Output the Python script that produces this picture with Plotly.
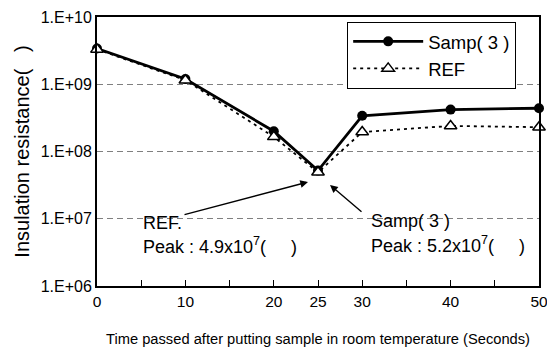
import plotly.graph_objects as go

time_s = [0, 10, 20, 25, 30, 40, 50]
samp3 = [3.4e9, 1.2e9, 2.0e8, 5.2e7, 3.4e8, 4.2e8, 4.4e8]
ref = [3.3e9, 1.15e9, 1.65e8, 4.9e7, 1.95e8, 2.4e8, 2.3e8]

x_ticks = [0, 10, 20, 25, 30, 40, 50]
y_ticks = [1e6, 1e7, 1e8, 1e9, 1e10]
y_tick_text = ["1.E+06", "1.E+07", "1.E+08", "1.E+09", "1.E+10"]

FONT = "Liberation Sans, Arial, sans-serif"

fig = go.Figure()
fig.add_trace(go.Scatter(
    x=time_s, y=samp3, name="Samp( 3 )", mode="lines+markers",
    line=dict(color="black", width=2.8),
    marker=dict(symbol="circle", size=10, color="black"),
    cliponaxis=False,
))
fig.add_trace(go.Scatter(
    x=time_s, y=ref, name="REF", mode="lines+markers",
    line=dict(color="black", width=1.8, dash="3px,4px"),
    marker=dict(symbol="triangle-up", size=11, color="white",
                line=dict(color="black", width=1.5)),
    cliponaxis=False,
))

fig.update_layout(
    width=547, height=352,
    margin=dict(l=97, r=8, t=17, b=66),
    paper_bgcolor="white", plot_bgcolor="white",
    font=dict(family=FONT, size=15, color="black"),
    showlegend=True,
    legend=dict(
        x=0.566, y=0.982, xanchor="left", yanchor="top",
        bordercolor="black", borderwidth=1, bgcolor="white",
        font=dict(size=18.5, family=FONT),
        itemwidth=70,
    ),
    xaxis=dict(
        range=[0, 50], tickvals=x_ticks, ticktext=[str(v) for v in x_ticks],
        ticks="inside", ticklen=6, tickcolor="black",
        minor=dict(ticks="inside", dtick=5, ticklen=6, tickcolor="black", showgrid=False),
        showgrid=False, showline=True, linecolor="black", linewidth=2,
        mirror=True, zeroline=False, automargin=False,
        ticklabeloverflow="allow",
        tickfont=dict(size=15.5),
        title=dict(text="Time passed after putting sample in room temperature (Seconds)",
                   font=dict(size=14.7), standoff=25),
    ),
    yaxis=dict(
        type="log", range=[6, 10], tickvals=y_ticks, ticktext=y_tick_text,
        ticks="", showgrid=True, gridcolor="#808080", griddash="6px,4px", gridwidth=1,
        showline=True, linecolor="black", linewidth=2, mirror=True, zeroline=False,
        automargin=False, ticklabeloverflow="allow",
        tickfont=dict(size=16),
        title=dict(text="Insulation resistance(   )\u00a0\u00a0", font=dict(size=20), standoff=6),
    ),
)

# Arrows
fig.add_annotation(x=23.87, y=7.547, ax=9.73, ay=7.056, xref="x", yref="y",
                   axref="x", ayref="y", showarrow=True, arrowhead=2,
                   arrowsize=1.1, arrowwidth=1.4, arrowcolor="black", text="")
fig.add_annotation(x=26.36, y=7.502, ax=30.09, ay=7.086, xref="x", yref="y",
                   axref="x", ayref="y", showarrow=True, arrowhead=2,
                   arrowsize=1.1, arrowwidth=1.4, arrowcolor="black", text="")

# Text labels
ann_font = dict(size=18, family=FONT, color="black")
fig.add_annotation(x=5.09, y=6.93, xref="x", yref="y", xanchor="left", yanchor="middle",
                   text="REF.", showarrow=False, font=ann_font, borderpad=0)
fig.add_annotation(x=5.09, y=6.595, xref="x", yref="y", xanchor="left", yanchor="middle",
                   text="Peak : 4.9x10<sup>7</sup>(     )", showarrow=False, font=ann_font, borderpad=0)
fig.add_annotation(x=30.88, y=6.97, xref="x", yref="y", xanchor="left", yanchor="middle",
                   text="Samp( 3 )", showarrow=False, font=ann_font, borderpad=0)
fig.add_annotation(x=30.88, y=6.610, xref="x", yref="y", xanchor="left", yanchor="middle",
                   text="Peak : 5.2x10<sup>7</sup>(     )", showarrow=False, font=ann_font, borderpad=0)

fig.write_html("out.html")
